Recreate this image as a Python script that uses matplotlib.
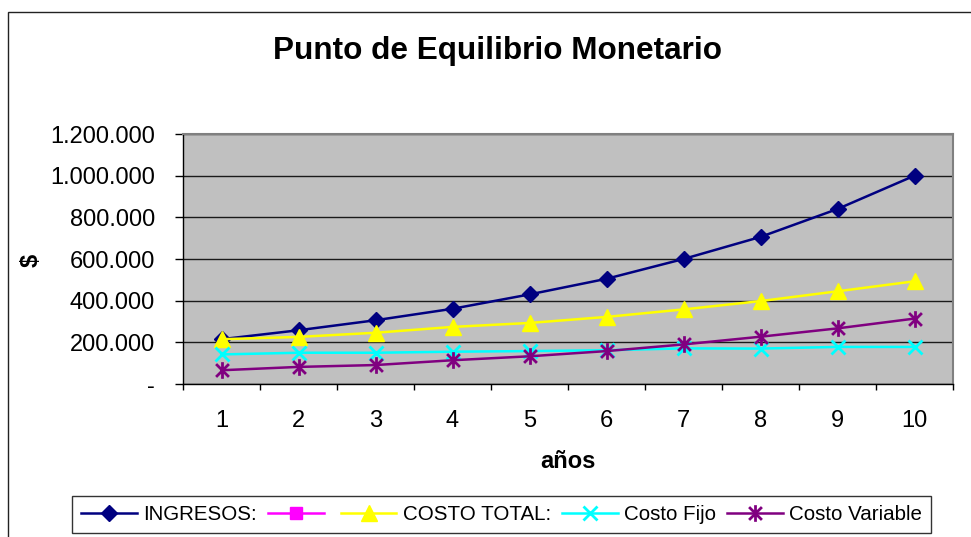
import matplotlib
matplotlib.use('Agg')
import matplotlib.pyplot as plt
from matplotlib.path import Path
from matplotlib.patches import Rectangle
from matplotlib.ticker import FuncFormatter, FixedLocator, NullFormatter

plt.rcParams['font.family'] = ['Liberation Sans', 'DejaVu Sans']

# ---- data ----
anos = [1, 2, 3, 4, 5, 6, 7, 8, 9, 10]
ingresos = [215000, 258000, 306000, 361000, 430000, 505000, 600000, 706000, 840000, 1000000]
serie_vacia = []
costo_total = [215000, 226000, 246000, 274000, 293000, 322000, 358000, 398000, 445000, 493000]
costo_fijo = [142000, 150000, 150000, 155000, 158000, 162000, 171000, 170000, 178000, 178000]
costo_variable = [66000, 82000, 91000, 114000, 133000, 158000, 190000, 227000, 267000, 314000]
y_ticks = [0, 200000, 400000, 600000, 800000, 1000000, 1200000]
labels = ['INGRESOS:', '', 'COSTO TOTAL:', 'Costo Fijo', 'Costo Variable']

W, H = 971, 537
fig = plt.figure(figsize=(W / 100, H / 100), dpi=100)
fig.patch.set_facecolor('white')

# outer chart-area border
fig.patches.append(Rectangle((8 / W, -0.2), 1.5, 1 - 12 / H + 0.2, transform=fig.transFigure,
                             fill=False, edgecolor='#222222', lw=1.0, clip_on=False))

left, right, top, bottom = 183, 953, 134, 384
ax = fig.add_axes([left / W, 1 - bottom / H, (right - left) / W, (bottom - top) / H])
ax.set_facecolor('#C0C0C0')

star = Path([(-1, -1), (1, 1), (-1, 1), (1, -1), (0, -1.3), (0, 1.3)],
            [Path.MOVETO, Path.LINETO, Path.MOVETO, Path.LINETO, Path.MOVETO, Path.LINETO])

h1, = ax.plot(anos, ingresos, color='#000080', lw=1.8, marker='D', ms=8,
              markerfacecolor='#000080', markeredgecolor='#000080')
h2, = ax.plot(serie_vacia, serie_vacia, color='#FF00FF', lw=1.8, marker='s', ms=8,
              markerfacecolor='#FF00FF', markeredgecolor='#FF00FF')
h3, = ax.plot(anos, costo_total, color='#FFFF00', lw=1.8, marker='^', ms=11,
              markerfacecolor='#FFFF00', markeredgecolor='#FFFF00')
h4, = ax.plot(anos, costo_fijo, color='#00FFFF', lw=1.8, marker='x', ms=10, mew=2.0)
h5, = ax.plot(anos, costo_variable, color='#800080', lw=1.8, marker=star, ms=12, mew=2.0)

ax.set_xlim(0.5, 10.5)
ax.set_ylim(0, 1200000)
ax.yaxis.set_major_locator(FixedLocator(y_ticks))
ax.yaxis.set_major_formatter(FuncFormatter(
    lambda v, p: '-' if v == 0 else f'{int(v):,}'.replace(',', '.')))
ax.grid(axis='y', color='#1a1a1a', lw=1.0)
ax.set_axisbelow(True)

ax.xaxis.set_major_locator(FixedLocator(anos))
ax.xaxis.set_minor_locator(FixedLocator([a + 0.5 for a in [0] + anos]))
ax.xaxis.set_minor_formatter(NullFormatter())
ax.tick_params(axis='x', which='major', length=0, pad=19, labelsize=17)
ax.tick_params(axis='x', which='minor', length=4.5, width=1, direction='out', color='black')
ax.tick_params(axis='y', which='major', length=5.8, width=1, direction='out', pad=14.4,
               labelsize=17, color='black')

for s in ['top', 'right']:
    ax.spines[s].set_color('#808080')
    ax.spines[s].set_linewidth(1.5)
for s in ['left', 'bottom']:
    ax.spines[s].set_color('black')
    ax.spines[s].set_linewidth(1.0)

fig.text(497 / W, 1 - 51 / H, 'Punto de Equilibrio Monetario', ha='center', va='center',
         fontsize=22.7, fontweight='bold')
fig.text(568 / W, 1 - 462 / H, 'años', ha='center', va='center', fontsize=17, fontweight='bold')
fig.text(31 / W, 1 - 260 / H, '$', ha='center', va='center', fontsize=17, fontweight='bold',
         rotation=90)

leg = fig.legend([h1, h2, h3, h4, h5], labels, loc='center', ncol=5,
                 bbox_to_anchor=((73 + 930) / 2 / W, 1 - (493 + 536) / 2 / H),
                 fontsize=14.8, frameon=True, fancybox=False, shadow=False,
                 handlelength=2.7, handletextpad=0.3, columnspacing=0.55,
                 borderpad=0.45, borderaxespad=0)
leg.get_frame().set_edgecolor('black')
leg.get_frame().set_linewidth(1.0)

fig.savefig('out.png', dpi=100, facecolor='white')
